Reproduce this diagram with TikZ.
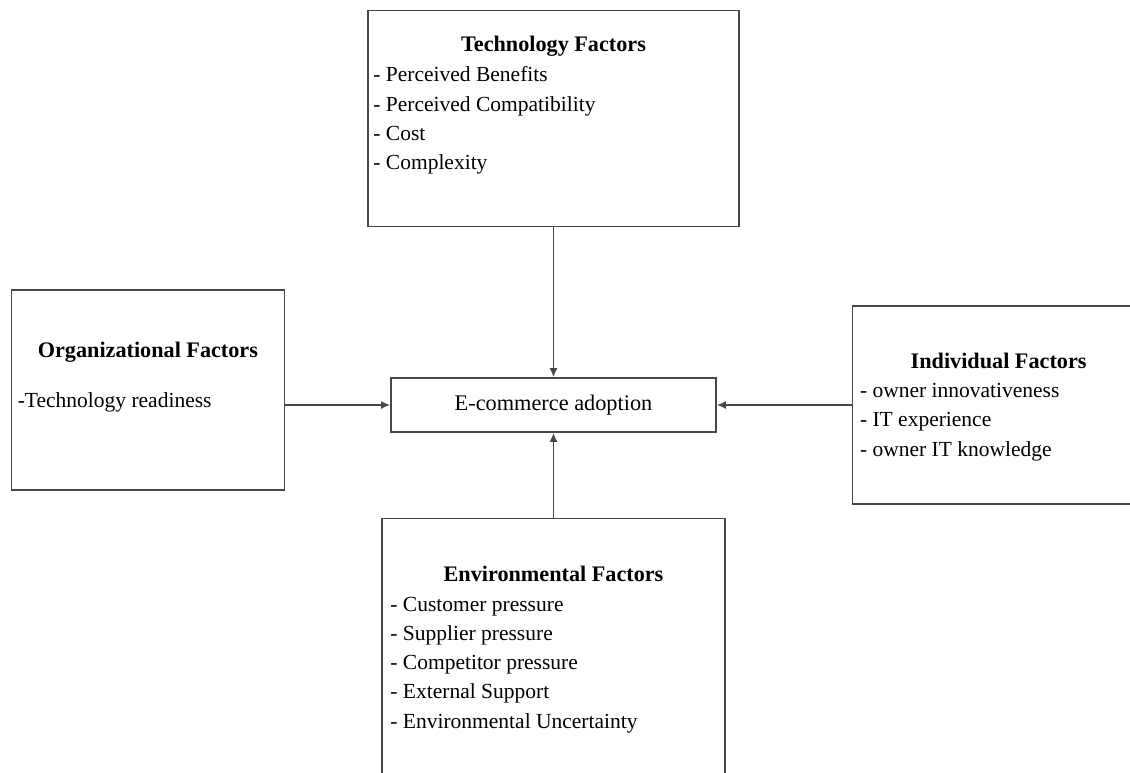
\documentclass[tikz,border=0pt]{standalone}
\usepackage{fontspec}
\setmainfont{Liberation Serif}
\usetikzlibrary{arrows.meta,positioning}

\begin{document}
\begin{tikzpicture}[
    x=1pt, y=-1pt,
    node distance=100pt,
    box/.style={rectangle, draw=black!72, line width=1.6pt},
    ttl/.style={anchor=base, inner sep=0pt, font=\fontsize{22.2}{29.3}\selectfont\bfseries},
    txt/.style={anchor=north west, align=left, inner sep=0pt, font=\fontsize{21.5}{29.3}\selectfont},
    arrow/.style={-{Latex[length=9pt,width=8pt]}, line width=1.6pt, draw=black!72}
]
\useasboundingbox (0,0) rectangle (1130,772);
\clip (0,0) rectangle (1130,772);

% Centre
\node[box, minimum width=325pt, minimum height=54pt, font=\fontsize{22.3}{29.3}\selectfont] (ecom) at (553.5,405) {E-commerce adoption};

% Factor boxes
\node[box, minimum width=371pt, minimum height=216pt, above=150pt of ecom] (tech) {};
\node[box, minimum width=273pt, minimum height=200pt, left=105pt of ecom, yshift=15pt] (org) {};
\node[box, minimum width=292pt, minimum height=198pt, right=135pt of ecom] (indiv) {};
\node[box, minimum width=343pt, minimum height=280pt, below=85pt of ecom] (env) {};

% Titles
\node[ttl] (techttl) at ([yshift=-42pt]tech.north) {Technology Factors};
\node[ttl] (orgttl) at ([yshift=-68pt]org.north) {Organizational Factors};
\node[ttl] (indivttl) at ([yshift=-63pt]indiv.north) {Individual Factors};
\node[ttl] (envttl) at ([yshift=-64pt]env.north) {Environmental Factors};

% Lists
\node[txt] (techlist) at ([xshift=6pt, yshift=-51.5pt]tech.north west) {\strut- Perceived Benefits\\- Perceived Compatibility\\- Cost\\- Complexity};
\node[txt] (orglist) at ([xshift=7pt, yshift=-97.5pt]org.north west) {\strut-Technology readiness};
\node[txt] (indivlist) at ([xshift=8pt, yshift=-71.5pt]indiv.north west) {\strut- owner innovativeness\\- IT experience\\- owner IT knowledge};
\node[txt] (envlist) at ([xshift=9pt, yshift=-72.5pt]env.north west) {\strut- Customer pressure\\- Supplier pressure\\- Competitor pressure\\- External Support\\- Environmental Uncertainty};

% Arrows
\draw[arrow] (tech) -- (ecom);
\draw[arrow] (env) -- (ecom);
\draw[arrow] (org.east |- ecom) -- (ecom);
\draw[arrow] (indiv) -- (ecom);

\end{tikzpicture}
\end{document}
